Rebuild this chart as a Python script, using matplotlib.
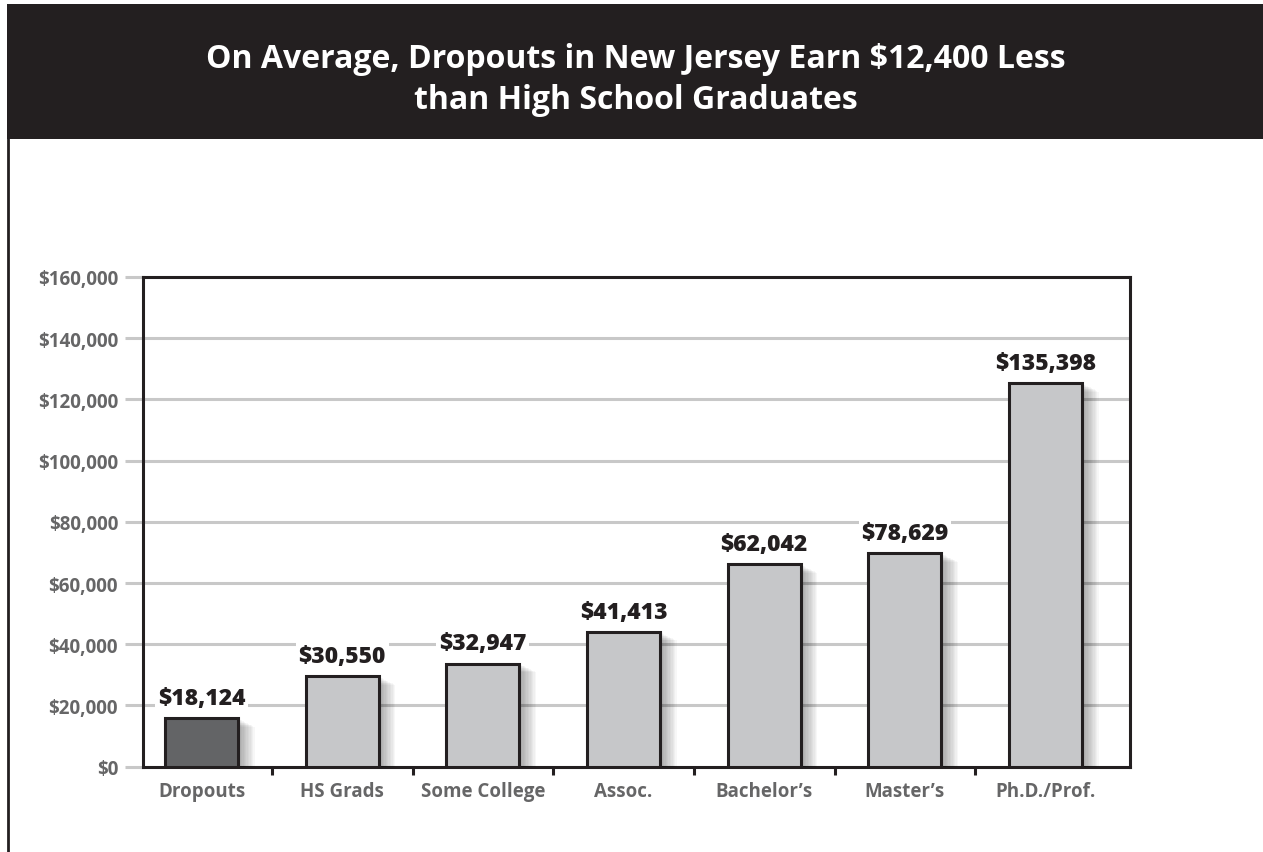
import matplotlib
matplotlib.use("Agg")
import matplotlib.pyplot as plt
import matplotlib.patheffects as pe
from matplotlib.patches import Rectangle
from matplotlib.lines import Line2D
import numpy as np

# data (bar heights as drawn, labels as printed)
categories = ["Dropouts", "HS Grads", "Some College", "Assoc.", "Bachelor\u2019s", "Master\u2019s", "Ph.D./Prof."]
bar_heights = [15800, 29500, 33700, 44000, 66100, 69700, 125300]
value_labels = ["$18,124", "$30,550", "$32,947", "$41,413", "$62,042", "$78,629", "$135,398"]
yticks = [0, 20000, 40000, 60000, 80000, 100000, 120000, 140000, 160000]
title = "On Average, Dropouts in New Jersey Earn $12,400 Less\nthan High School Graduates"

plt.rcParams['font.family'] = ['Open Sans', 'DejaVu Sans']
ink = "#231f20"
gray_txt = "#666667"
grid_c = "#c8c8c8"

fig = plt.figure(figsize=(12.63, 8.53), dpi=100)
W, H = 1263, 853

# header band
fig.patches.append(Rectangle((7 / W, 1 - 140 / H), 1, (140 - 5) / H, transform=fig.transFigure,
                             facecolor=ink, edgecolor='none', zorder=0))
fig.lines.append(Line2D([8 / W, 8 / W], [0, 1 - 140 / H], transform=fig.transFigure, color=ink, lw=2))
fig.text(0.5035, 1 - 80 / H, title, ha='center', va='center', color='white',
         fontsize=23, fontweight='bold', linespacing=1.3)

ax = fig.add_axes([143 / W, 1 - 767.7 / H, (1130 - 143) / W, (767.7 - 278) / H])
x = np.arange(len(categories))
colors = ["#636466"] + ["#c6c7c9"] * (len(categories) - 1)

shadow = [pe.SimplePatchShadow(offset=(d, -0.5 * d), shadow_rgbFace='black', alpha=0.03)
          for d in np.arange(1.0, 13.0, 1.0)] + [pe.Normal()]
bars = ax.bar(x, bar_heights, width=0.52, color=colors, edgecolor=ink, linewidth=2.2, zorder=3)
for b in bars:
    b.set_path_effects(shadow)

for xi, h, lab in zip(x, bar_heights, value_labels):
    ax.annotate(lab, (xi, h), xytext=(0, 6), textcoords='offset points', ha='center', va='bottom',
                fontsize=16.5, fontweight='heavy', color=ink, zorder=4,
                bbox=dict(facecolor='white', edgecolor='none', pad=2))

ax.set_xlim(-0.416, 6.6)
ax.set_ylim(0, 160000)
ax.set_yticks(yticks)
ax.set_yticklabels(["${:,}".format(v) for v in yticks])
ax.yaxis.grid(True, color=grid_c, lw=2.2, zorder=1)
ax.set_axisbelow(True)
ax.tick_params(axis='y', length=13, width=2.2, color=grid_c, pad=5, labelsize=13.5, labelcolor=gray_txt)
for lab in ax.get_yticklabels():
    lab.set_fontweight('bold')
ticks = ax.yaxis.get_major_ticks()
ticks[0].tick1line.set_color(ink)
ticks[-1].tick1line.set_color(ink)
ticks[0].gridline.set_visible(False)
ticks[-1].gridline.set_visible(False)

ax.set_xticks(x)
ax.set_xticklabels(categories, fontweight='bold')
ax.tick_params(axis='x', length=0, pad=10, labelsize=13.5, labelcolor=gray_txt)
ax.set_xticks(np.arange(0.5, len(categories) - 1, 1), minor=True)
ax.tick_params(axis='x', which='minor', length=6, width=2.2, color=ink, direction='out')

for s in ax.spines.values():
    s.set_color(ink)
    s.set_linewidth(2.2)

fig.savefig("out.png", dpi=100)
